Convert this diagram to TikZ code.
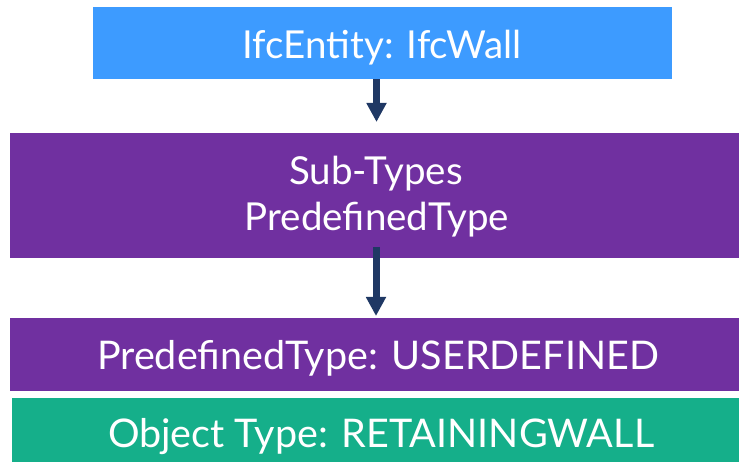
\documentclass[tikz,border=0pt]{standalone}
\usepackage{fontspec}
\setmainfont{Lato}
\usetikzlibrary{arrows.meta}
\definecolor{ifcblue}{HTML}{3D9BFF}
\definecolor{ifcpurple}{HTML}{7030A0}
\definecolor{ifcgreen}{HTML}{15AF8A}
\definecolor{ifcnavy}{HTML}{1F3864}
\tikzset{
  box/.style={rectangle, draw=none, inner sep=0pt},
  lbl/.style={anchor=base, text=white, inner sep=0pt, font=\fontsize{38.5}{46}\selectfont},
  lblcaps/.style={lbl, font=\fontsize{39.5}{47}\selectfont},
  flow/.style={draw=ifcnavy, line width=7pt, -{Triangle[width=19pt,length=19pt]}}
}
\begin{document}
\begin{tikzpicture}[x=1pt,y=-1pt]
\useasboundingbox (0,0) rectangle (739,462);
\clip (0,0) rectangle (739,462);
\node[box, fill=ifcblue, minimum width=579pt, minimum height=72pt] (b1) at (382.5,43) {};
\node[box, fill=ifcpurple, minimum width=739pt, minimum height=125pt] (b2) at (379.5,195.5) {};
\node[box, fill=ifcpurple, minimum width=739pt, minimum height=73pt] (b3) at (379.5,354.5) {};
\node[box, fill=ifcgreen, minimum width=737pt, minimum height=72pt] (b4) at (380.5,434) {};
\node[lbl] (t1) at (382,59) {IfcEntity: IfcWall};
\node[lbl] (t2a) at (376,185) {Sub-Types};
\node[lbl] (t2b) at (377,231) {PredefinedType};
\node[lblcaps] (t3) at (378,369) {PredefinedType: USERDEFINED};
\node[lblcaps] (t4) at (381,447) {Object Type: RETAININGWALL};
\coordinate (a1s) at (376.5,0 |- b1.south);
\coordinate (a1e) at (376.5,122);
\coordinate (a2s) at (376,247);
\coordinate (a2e) at (376,316);
\draw[flow] (a1s) -- (a1e);
\draw[flow] (a2s) -- (a2e);
\end{tikzpicture}
\end{document}
